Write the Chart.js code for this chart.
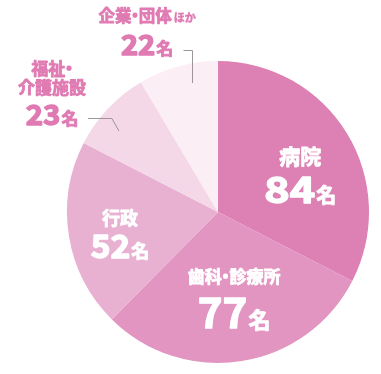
<!DOCTYPE html>
<html>
<head>
<meta charset="utf-8">
<script src="https://cdn.jsdelivr.net/npm/chart.js@4/dist/chart.umd.min.js"></script>
<style>
html,body{margin:0;padding:0;background:#fff;}
#wrap{position:relative;width:381px;height:374px;}
</style>
</head>
<body>
<div id="wrap"><canvas id="c" width="381" height="374"></canvas></div>
<script>
// ---- data ----
const categories = ['病院', '歯科・診療所', '行政', '福祉・介護施設', '企業・団体ほか'];
const values = [84, 77, 52, 23, 22];
const unit = '名';
const labelLines = [['病院'], ['歯科・診療所'], ['行政'], ['福祉・', '介護施設'], ['企業・団体ほか']];

// ---- styles ----
const colors = ['#dd80b3', '#e195c0', '#e8b1d2', '#f4d8e8', '#fbeef5'];
const FONT = '"Noto Sans CJK JP", "Noto Sans", sans-serif';
const W = 'bold';
const labelStyles = [
  {inside: true, ang: 6.5, rf: 0.60, titleSize: 21, titleDy: [-18], numSize: 36, numScaleX: 1.2, unitSize: 20, numDy: 29},
  {inside: true, ang: -1.8, rf: 0.566, titleSize: 17, titleDy: [-19], numSize: 42, numScaleX: 1.0, unitSize: 22, numDy: 32},
  {inside: true, ang: -3.1, rf: 0.664, titleSize: 18, titleDy: [-15], numSize: 32, numScaleX: 1.05, unitSize: 18, numDy: 25},
  {inside: false, ang: -7.4, rf: 1.356, titleSize: 17, titleDy: [-24, -5], numSize: 28, numScaleX: 1.05, unitSize: 17, numDy: 33,
   leader: {ang: -4.0, rf: 0.847, elbow: [-7, -13], startDx: 36}},
  {inside: false, ang: -6.05, rf: 1.287, titleSize: 16.5, titleDy: [-15], numSize: 27, numScaleX: 1.08, unitSize: 17, numDy: 24,
   smallSuffix: 'ほか', smallSize: 11,
   leader: {ang: 3.95, rf: 0.871, vertToDy: 19, startDx: -9}}
];
const insideColor = '#ffffff';
const outsideColor = '#e07ab3';
const leaderColor = '#9d959a';
const DOT = '・';
const DOT_ADV = 0.45; // em advance for the middle dot

function polar(arc, deg, rf) {
  const r = arc.outerRadius * rf;
  const a = deg * Math.PI / 180;
  return {x: arc.x + r * Math.sin(a), y: arc.y - r * Math.cos(a)};
}

// measure/draw a line with a tight middle dot; font must be set
function measureTight(ctx, s, size) {
  let w = 0;
  for (const part of s.split(DOT)) w += ctx.measureText(part).width;
  w += (s.split(DOT).length - 1) * size * DOT_ADV;
  return w;
}
function drawTight(ctx, s, x, y, size, stroke) {
  const parts = s.split(DOT);
  let cx = x;
  parts.forEach((p, k) => {
    if (p) {
      if (stroke) ctx.strokeText(p, cx, y);
      ctx.fillText(p, cx, y);
      cx += ctx.measureText(p).width;
    }
    if (k < parts.length - 1) {
      const dw = ctx.measureText(DOT).width;
      const dx = cx + size * DOT_ADV / 2 - dw / 2;
      if (stroke) ctx.strokeText(DOT, dx, y);
      ctx.fillText(DOT, dx, y);
      cx += size * DOT_ADV;
    }
  });
}

const labelPlugin = {
  id: 'labelPlugin',
  afterDatasetsDraw(chart) {
    const ctx = chart.ctx;
    const meta = chart.getDatasetMeta(0);
    meta.data.forEach((arc, i) => {
      const st = labelStyles[i];
      const midRad = (arc.startAngle + arc.endAngle) / 2 + Math.PI / 2;
      const mid = midRad * 180 / Math.PI;
      const anchor = polar(arc, mid + st.ang, st.rf);
      const color = st.inside ? insideColor : outsideColor;
      ctx.save();
      if (st.leader) {
        const L = st.leader;
        const end = polar(arc, mid + L.ang, L.rf);
        ctx.strokeStyle = leaderColor;
        ctx.lineWidth = 1;
        ctx.beginPath();
        if (L.vertToDy !== undefined) {
          const ey = anchor.y + L.vertToDy;
          ctx.moveTo(Math.round(end.x + L.startDx) + 0.5, Math.round(ey) + 0.5);
          ctx.lineTo(Math.round(end.x) + 0.5, Math.round(ey) + 0.5);
          ctx.lineTo(Math.round(end.x) + 0.5, Math.round(end.y));
        } else {
          const ex = end.x + L.elbow[0], ey = end.y + L.elbow[1];
          ctx.moveTo(anchor.x + L.startDx, Math.round(ey) + 0.5);
          ctx.lineTo(ex, Math.round(ey) + 0.5);
          ctx.lineTo(end.x, end.y);
        }
        ctx.stroke();
      }
      ctx.fillStyle = color;
      ctx.strokeStyle = color;
      ctx.lineJoin = 'round';
      ctx.textAlign = 'left';
      labelLines[i].forEach((line, k) => {
        const y = anchor.y + st.titleDy[k];
        const base = y + st.titleSize * 0.38;
        ctx.textBaseline = 'alphabetic';
        ctx.lineWidth = 0.8;
        let main = line, suffix = '';
        if (st.smallSuffix && line.endsWith(st.smallSuffix)) {
          main = line.slice(0, line.length - st.smallSuffix.length);
          suffix = st.smallSuffix;
        }
        ctx.font = `${W} ${st.titleSize}px ${FONT}`;
        const w1 = measureTight(ctx, main, st.titleSize);
        let w2 = 0;
        if (suffix) {
          ctx.font = `${W} ${st.smallSize}px ${FONT}`;
          w2 = ctx.measureText(suffix).width + 2;
        }
        const x0 = anchor.x - (w1 + w2) / 2;
        ctx.font = `${W} ${st.titleSize}px ${FONT}`;
        drawTight(ctx, main, x0, base, st.titleSize, true);
        if (suffix) {
          ctx.font = `${W} ${st.smallSize}px ${FONT}`;
          ctx.lineWidth = 0.5;
          ctx.strokeText(suffix, x0 + w1 + 2, base);
          ctx.fillText(suffix, x0 + w1 + 2, base);
        }
      });
      const num = String(values[i]);
      ctx.textBaseline = 'alphabetic';
      ctx.font = `${W} ${st.numSize}px ${FONT}`;
      const sx = st.numScaleX || 1;
      const wn = ctx.measureText(num).width * sx;
      ctx.font = `${W} ${st.unitSize}px ${FONT}`;
      const wu = ctx.measureText(unit).width;
      const gap = 1;
      const x0 = anchor.x - (wn + gap + wu) / 2;
      const by = anchor.y + st.numDy;
      ctx.font = `${W} ${st.numSize}px ${FONT}`;
      ctx.save();
      ctx.translate(x0, by);
      ctx.scale(sx, 1);
      ctx.lineWidth = 1.4;
      ctx.strokeText(num, 0, 0);
      ctx.fillText(num, 0, 0);
      ctx.restore();
      ctx.font = `${W} ${st.unitSize}px ${FONT}`;
      ctx.lineWidth = 0.9;
      ctx.strokeText(unit, x0 + wn + gap, by);
      ctx.fillText(unit, x0 + wn + gap, by);
      ctx.restore();
    });
  }
};

new Chart(document.getElementById('c'), {
  type: 'pie',
  data: {
    labels: categories,
    datasets: [{
      data: values,
      backgroundColor: colors,
      borderWidth: 0,
      hoverOffset: 0
    }]
  },
  options: {
    responsive: false,
    animation: false,
    layout: {padding: {left: 67, right: 12, top: 61, bottom: 11}},
    plugins: {legend: {display: false}, tooltip: {enabled: false}}
  },
  plugins: [labelPlugin]
});
</script>
</body>
</html>
